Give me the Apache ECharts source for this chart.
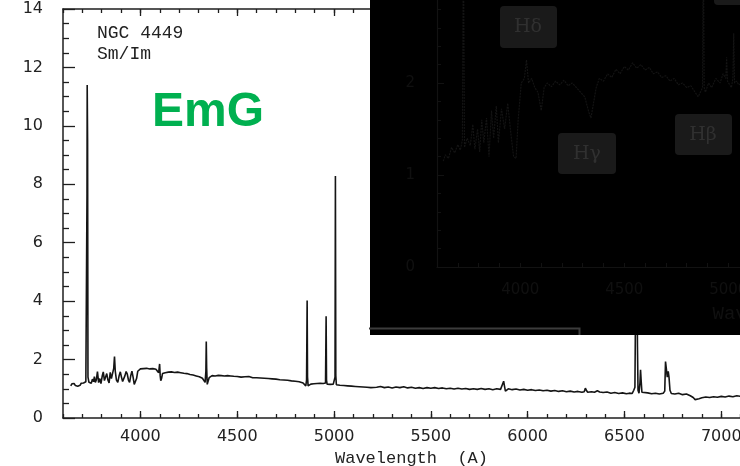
<!DOCTYPE html>
<html>
<head>
<meta charset="utf-8">
<script src="https://cdn.jsdelivr.net/npm/echarts@6/dist/echarts.min.js"></script>
<style>
  html, body { margin: 0; padding: 0; background: #ffffff; }
  #chart { width: 740px; height: 466px; }
</style>
</head>
<body>
<div id="chart"></div>
<script>
// NGC 4449 optical spectrum: wavelength (Angstrom) and relative flux
const wavelength = [
  3640,3646,3652,3658,3664,3670,3676,3682,3688,3694,3700,3706,3712,3718,3722,3724,3725,3727,3729,3734,
  3740,3746,3752,3758,3762,3767,3772,3778,3784,3790,3796,3803,3808,3814,3820,3826,3832,3838,3844,3850,
  3856,3862,3866,3870,3876,3883,3890,3896,3902,3908,3914,3920,3926,3932,3938,3944,3950,3956,3962,3968,
  3974,3980,3986,3992,4000,4008,4016,4024,4032,4040,4048,4056,4064,4072,4080,4088,4094,4099,4102,4105,
  4109,4114,4120,4128,4136,4144,4152,4160,4168,4176,4184,4192,4200,4208,4216,4224,4232,4240,4248,4256,
  4264,4272,4280,4288,4296,4304,4312,4320,4328,4334,4338,4340,4342,4345,4349,4355,4362,4370,4378,4386,
  4394,4402,4410,4418,4426,4434,4442,4450,4458,4466,4474,4482,4490,4500,4510,4520,4530,4540,4550,4560,
  4570,4580,4590,4600,4610,4620,4630,4640,4650,4660,4670,4680,4690,4700,4710,4720,4730,4740,4750,4760,
  4770,4780,4790,4800,4810,4820,4830,4840,4848,4854,4858,4861,4863,4866,4872,4880,4888,4896,4904,4912,
  4920,4928,4936,4944,4952,4956,4959,4961,4964,4972,4980,4988,4996,5002,5005,5007,5009,5012,5020,5030,
  5040,5050,5060,5070,5080,5090,5100,5110,5120,5130,5140,5150,5160,5170,5180,5190,5200,5220,5240,5260,
  5280,5300,5320,5340,5360,5380,5400,5420,5440,5460,5480,5500,5520,5540,5560,5580,5600,5620,5640,5660,
  5680,5700,5720,5740,5760,5780,5800,5820,5840,5860,5870,5876,5880,5885,5892,5900,5920,5940,5960,5980,
  6000,6020,6040,6060,6080,6100,6120,6140,6160,6180,6200,6220,6240,6260,6280,6292,6298,6303,6310,6330,
  6345,6360,6366,6372,6390,6410,6430,6450,6470,6490,6510,6525,6540,6548,6554,6558,6561,6564,6567,6570,
  6575,6580,6583,6586,6590,6600,6620,6640,6660,6680,6700,6708,6712,6716,6721,6726,6730,6735,6742,6760,
  6780,6800,6820,6840,6855,6865,6875,6885,6900,6920,6940,6960,6980,7000,7020,7040,7060,7080,7100,7120,
  7140,7160,7180,7200
];
const flux = [
  1.10,1.17,1.12,1.18,1.11,1.16,1.09,1.14,1.12,1.19,1.15,1.20,1.17,1.24,1.30,7.70,11.40,9.50,1.40,1.22,
  1.28,1.19,1.33,1.24,1.42,1.22,1.30,1.59,1.21,1.35,1.18,1.45,1.58,1.28,1.22,1.52,1.30,1.20,1.56,1.35,
  1.40,1.70,2.10,1.60,1.30,1.22,1.45,1.58,1.40,1.25,1.19,1.45,1.59,1.50,1.30,1.22,1.45,1.60,1.40,1.15,
  1.12,1.35,1.60,1.66,1.68,1.64,1.69,1.66,1.70,1.65,1.68,1.64,1.69,1.66,1.67,1.62,1.55,1.85,1.45,1.28,
  1.35,1.52,1.58,1.55,1.60,1.57,1.61,1.58,1.60,1.56,1.62,1.57,1.59,1.55,1.58,1.53,1.56,1.52,1.54,1.49,
  1.52,1.47,1.49,1.44,1.46,1.41,1.40,1.36,1.30,1.22,1.60,2.62,1.70,1.15,1.25,1.38,1.42,1.45,1.41,1.44,
  1.42,1.46,1.43,1.45,1.42,1.44,1.41,1.45,1.42,1.44,1.41,1.43,1.45,1.42,1.44,1.40,1.43,1.41,1.39,1.42,
  1.40,1.38,1.41,1.38,1.40,1.37,1.39,1.36,1.38,1.35,1.38,1.34,1.36,1.33,1.35,1.31,1.33,1.30,1.32,1.29,
  1.31,1.27,1.29,1.26,1.27,1.24,1.25,1.20,1.14,1.10,1.30,4.02,1.40,1.10,1.13,1.16,1.12,1.17,1.14,1.18,
  1.15,1.19,1.16,1.18,1.15,1.20,3.48,1.30,1.16,1.18,1.15,1.19,1.16,1.18,1.40,8.28,1.45,1.14,1.16,1.12,
  1.15,1.11,1.13,1.10,1.12,1.09,1.11,1.08,1.10,1.07,1.09,1.06,1.08,1.05,1.07,1.04,1.07,1.05,1.08,1.04,
  1.06,1.03,1.06,1.04,1.07,1.03,1.05,1.02,1.04,1.01,1.04,1.02,1.04,1.01,1.03,1.00,1.02,0.99,1.02,0.99,
  1.01,0.98,1.00,0.98,1.01,0.98,1.00,0.97,1.00,0.98,0.99,1.26,1.10,0.92,0.97,1.00,0.97,0.99,0.96,0.98,
  0.95,0.97,0.94,0.96,0.93,0.95,0.92,0.94,0.91,0.93,0.90,0.92,0.89,0.91,0.88,0.90,1.02,0.95,0.88,0.90,
  0.88,0.93,0.96,0.89,0.87,0.89,0.85,0.87,0.84,0.86,0.83,0.85,0.84,0.95,1.05,4.50,9.00,8.00,2.50,0.95,
  0.85,1.20,1.65,1.30,0.88,0.84,0.86,0.83,0.85,0.82,0.85,0.92,1.93,1.70,1.40,1.60,1.40,0.95,0.84,0.82,
  0.85,0.80,0.82,0.76,0.70,0.63,0.64,0.66,0.69,0.72,0.70,0.73,0.71,0.74,0.72,0.75,0.73,0.76,0.74,0.76,
  0.74,0.77,0.75,0.76
];

// Comparison spectrum shown in the dark panel (blue part only)
const panelWavelength = [
  3630,3640,3655,3670,3685,3700,3712,3722,3727,3732,3745,3760,3772,3782,3795,3805,3815,3825,3838,3850,
  3862,3872,3885,3895,3910,3925,3940,3955,3968,3980,3990,4005,4020,4030,4040,4055,4070,4085,4101,4115,
  4130,4150,4170,4190,4210,4230,4250,4270,4290,4310,4330,4340,4350,4365,4380,4400,4420,4440,4460,4480,
  4500,4520,4540,4560,4580,4600,4620,4640,4660,4680,4700,4720,4740,4760,4780,4800,4820,4840,4855,4870,
  4876,4880,4884,4890,4905,4920,4940,4960,4975,4988,4992,4996,5005,5015,5022,5026,5030,5040,5050,5065
];
const panelFlux = [
  1.15,1.22,1.18,1.30,1.24,1.33,1.27,1.38,3.60,1.30,1.40,1.32,1.55,1.28,1.50,1.25,1.60,1.35,1.62,1.20,
  1.70,1.40,1.75,1.35,1.72,1.50,1.78,1.45,1.20,1.18,1.60,2.00,2.05,2.25,2.00,2.05,1.95,1.90,1.70,1.95,
  2.00,1.96,2.02,1.98,2.03,1.97,2.00,1.95,1.90,1.85,1.68,1.62,1.75,1.95,2.05,2.02,2.10,2.06,2.15,2.10,
  2.18,2.14,2.22,2.16,2.20,2.14,2.17,2.10,2.12,2.06,2.08,2.02,2.05,1.98,2.00,1.95,1.97,1.90,1.85,1.92,
  1.95,3.60,1.95,1.90,2.00,1.95,2.05,2.00,2.10,2.05,2.28,2.02,2.00,1.95,2.05,2.54,2.00,2.02,1.98,2.00
];

// Axis tick labels
const xTickLabels = [4000, 4500, 5000, 5500, 6000, 6500, 7000];
const panelXTickLabels = [4000, 4500, 5000, 5500];
const panelLineNames = ['Hδ', 'Hγ', 'Hβ'];

const hundreds = [];
for (let w = 3600; w <= 7200; w += 100) hundreds.push(w);

const mainData = wavelength.map((w, i) => [w, flux[i]]);
const panelData = panelWavelength.map((w, i) => [w, panelFlux[i]]);

const ink = '#1e1e1e';
const dim = '#121212';
const dimText = '#101010';
const labelFont = 'DejaVu Sans';
const plain = v => String(v);

function tickAxis(position, values, len, showLine) {
  return {
    type: 'value', gridIndex: 0, position: position, min: 3600, max: 7200,
    axisLine: { show: showLine, onZero: false, lineStyle: { color: ink, width: 1.5 } },
    axisTick: { show: true, inside: true, length: len, customValues: values,
                lineStyle: { color: ink, width: 1.3 } },
    axisLabel: { show: false }, splitLine: { show: false }
  };
}

const chart = echarts.init(document.getElementById('chart'), null, { renderer: 'canvas' });

chart.setOption({
  animation: false,
  backgroundColor: '#ffffff',
  grid: [
    { left: 63, top: 9, width: 697, height: 409, outerBoundsMode: 'none', containLabel: false },
    { left: 437, top: -9, width: 722, height: 276, outerBoundsMode: 'none', containLabel: false }
  ],
  xAxis: [
    {
      type: 'value', gridIndex: 0, position: 'bottom', min: 3600, max: 7200,
      axisLine: { show: true, onZero: false, lineStyle: { color: ink, width: 1.5 } },
      axisTick: { show: true, inside: true, length: 4, customValues: hundreds,
                  lineStyle: { color: ink, width: 1.3 } },
      axisLabel: { customValues: xTickLabels, formatter: plain, margin: 11, color: '#222',
                   fontFamily: labelFont, fontSize: 16 },
      splitLine: { show: false },
      name: 'Wavelength  (A)', nameLocation: 'middle', nameGap: 25,
      nameTextStyle: { fontFamily: 'Liberation Mono', fontSize: 17, color: '#222' }
    },
    tickAxis('bottom', xTickLabels, 7, false),
    tickAxis('top', hundreds, 4, true),
    tickAxis('top', xTickLabels, 7, false),
    {
      type: 'value', gridIndex: 1, position: 'bottom', min: 3600, max: 7070, z: 60,
      axisLine: { show: true, onZero: false, lineStyle: { color: dim, width: 1.2 } },
      axisTick: { show: true, inside: true, length: 4, customValues: hundreds,
                  lineStyle: { color: dim, width: 1 } },
      axisLabel: { customValues: panelXTickLabels, formatter: plain, margin: 16, color: dimText,
                   fontFamily: labelFont, fontSize: 15 },
      splitLine: { show: false },
      name: 'Wavelength  (A)', nameLocation: 'middle', nameGap: 37,
      nameTextStyle: { fontFamily: 'Liberation Mono', fontSize: 19, color: dimText }
    }
  ],
  yAxis: [
    {
      type: 'value', gridIndex: 0, min: 0, max: 14, interval: 2,
      axisLine: { show: true, onZero: false, lineStyle: { color: ink, width: 1.5 } },
      axisTick: { show: true, inside: true, length: 12, lineStyle: { color: ink, width: 1.3 } },
      minorTick: { show: true, splitNumber: 4, length: 6, lineStyle: { color: ink, width: 1.3 } },
      axisLabel: { margin: 20, color: '#222', fontFamily: labelFont, fontSize: 16 },
      splitLine: { show: false }, minorSplitLine: { show: false }
    },
    {
      type: 'value', gridIndex: 1, min: 0, max: 3, interval: 1, z: 60,
      axisLine: { show: true, onZero: false, lineStyle: { color: dim, width: 1.2 } },
      axisTick: { show: true, inside: true, length: 7, lineStyle: { color: dim, width: 1 } },
      minorTick: { show: true, splitNumber: 5, length: 4, lineStyle: { color: dim, width: 1 } },
      axisLabel: { margin: 22, color: dimText, fontFamily: labelFont, fontSize: 15, showMaxLabel: false },
      splitLine: { show: false }, minorSplitLine: { show: false }
    }
  ],
  series: [
    {
      type: 'line', xAxisIndex: 0, yAxisIndex: 0, data: mainData,
      showSymbol: false, symbol: 'none', clip: true, z: 2,
      lineStyle: { color: '#151515', width: 1.6 }
    },
    {
      type: 'line', xAxisIndex: 4, yAxisIndex: 1, data: panelData,
      showSymbol: false, symbol: 'none', clip: true, z: 61,
      lineStyle: { color: '#141414', width: 1.1, type: [2, 1] }
    }
  ],
  graphic: [
    { type: 'text', z: 10, style: { text: 'NGC 4449', x: 97, y: 33, verticalAlign: 'middle',
      font: '18px "Liberation Mono"', fill: '#222' } },
    { type: 'text', z: 10, style: { text: 'Sm/Im', x: 97, y: 54, verticalAlign: 'middle',
      font: '18px "Liberation Mono"', fill: '#222' } },
    { type: 'text', z: 10, style: { text: 'EmG', x: 152, y: 113, verticalAlign: 'middle',
      font: 'bold 48px "Liberation Sans"', fill: '#00b050' } },
    // dark panel laid over the upper right
    { type: 'rect', z: 50, shape: { x: 370, y: 0, width: 372, height: 335 }, style: { fill: '#000000' } },
    { type: 'polyline', z: 51, shape: { points: [[369, 328.5], [579.5, 328.5], [579.5, 335]] },
      style: { stroke: '#3c3c3c', lineWidth: 2, fill: null } },
    { type: 'rect', z: 62, shape: { x: 500, y: 6, width: 57, height: 42, r: 4 }, style: { fill: '#1a1a1a' } },
    { type: 'rect', z: 62, shape: { x: 558, y: 133, width: 58, height: 41, r: 4 }, style: { fill: '#1a1a1a' } },
    { type: 'rect', z: 62, shape: { x: 675, y: 114, width: 57, height: 41, r: 4 }, style: { fill: '#1a1a1a' } },
    { type: 'rect', z: 62, shape: { x: 714, y: -30, width: 40, height: 35, r: 4 }, style: { fill: '#1a1a1a' } },
    { type: 'text', z: 63, style: { text: panelLineNames[0], x: 528, y: 27, align: 'center', verticalAlign: 'middle',
      font: '19px "DejaVu Serif"', fill: '#303030' } },
    { type: 'text', z: 63, style: { text: panelLineNames[1], x: 587, y: 154, align: 'center', verticalAlign: 'middle',
      font: '19px "DejaVu Serif"', fill: '#303030' } },
    { type: 'text', z: 63, style: { text: panelLineNames[2], x: 703, y: 135, align: 'center', verticalAlign: 'middle',
      font: '19px "DejaVu Serif"', fill: '#303030' } }
  ]
});
</script>
</body>
</html>
